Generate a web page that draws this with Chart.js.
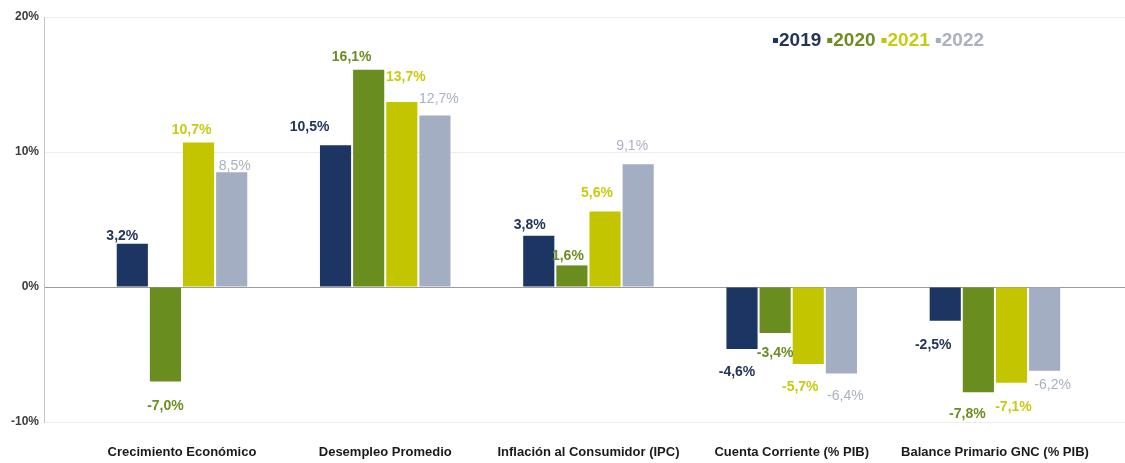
<!DOCTYPE html>
<html>
<head>
<meta charset="utf-8">
<script src="https://cdn.jsdelivr.net/npm/chart.js@4.4.1/dist/chart.umd.min.js"></script>
<style>
  html, body { margin: 0; padding: 0; background: #ffffff; }
  #wrap { width: 1125px; height: 463px; position: relative; }
</style>
</head>
<body>
<div id="wrap"><canvas id="c"></canvas></div>
<script>
// Indicators (x axis) and yearly values, in percent
const categories = [
  'Crecimiento Económico',
  'Desempleo Promedio',
  'Inflación al Consumidor (IPC)',
  'Cuenta Corriente (% PIB)',
  'Balance Primario GNC (% PIB)'
];
const years = ['2019', '2020', '2021', '2022'];
const v2019 = [3.2, 10.5, 3.8, -4.6, -2.5];
const v2020 = [-7.0, 16.1, 1.6, -3.4, -7.8];
const v2021 = [10.7, 13.7, 5.6, -5.7, -7.1];
const v2022 = [8.5, 12.7, 9.1, -6.4, -6.2];
const yTickValues = [-10, 0, 10, 20];

// Styling per year
const barColors   = ['#1c3562', '#6a8d1f', '#c3c500', '#a3aec3'];
const labelColors = ['#24355c', '#6b8e23', '#c9cb10', '#a9b1c2'];
const labelWeight = ['bold', 'bold', 'bold', 'normal'];

// Small offsets (px) of each value label from its bar end, so labels don't collide
const labelNudge = [
  [[-10, -8], [-26, -18], [-9, -11], [-5, 23], [-12, 24]],
  [[0, 25], [-17, -13], [-4, -9], [0, 20], [-11, 22]],
  [[-7, -12], [4, -25], [-8, -18], [-8, 23], [2, 24]],
  [[3, -6], [4, -16], [-6, -18], [4, 23], [8, 14]]
];

const series = [v2019, v2020, v2021, v2022];
const FONT = '"Liberation Sans", Arial, sans-serif';

const fmt = v => v.toFixed(1).replace('.', ',') + '%';

const valueLabels = {
  id: 'valueLabels',
  afterDatasetsDraw(chart) {
    const ctx = chart.ctx;
    ctx.save();
    ctx.textAlign = 'center';
    ctx.textBaseline = 'middle';
    chart.data.datasets.forEach((ds, di) => {
      const meta = chart.getDatasetMeta(di);
      ctx.fillStyle = labelColors[di];
      ctx.font = labelWeight[di] + ' 14px ' + FONT;
      meta.data.forEach((bar, i) => {
        const [dx, dy] = labelNudge[di][i];
        ctx.fillText(fmt(series[di][i]), bar.x + dx, bar.y + dy);
      });
    });
    ctx.restore();
  }
};

const yearKey = {
  id: 'yearKey',
  afterDraw(chart) {
    const ctx = chart.ctx;
    ctx.save();
    ctx.font = 'bold 19px ' + FONT;
    ctx.textBaseline = 'middle';
    ctx.textAlign = 'left';
    let x = 773;
    const y = 41;
    years.forEach((yr, i) => {
      ctx.fillStyle = barColors[i];
      ctx.fillRect(x, y - 3, 5, 5);
      ctx.fillStyle = labelColors[i];
      ctx.fillText(yr, x + 6, y);
      x += 6 + ctx.measureText(yr).width + 6;
    });
    ctx.restore();
  }
};

new Chart(document.getElementById('c'), {
  type: 'bar',
  data: {
    datasets: years.map((yr, di) => ({
      label: yr,
      data: series[di].map((v, i) => ({ x: i, y: v })),
      backgroundColor: barColors[di],
      borderWidth: 0,
      categoryPercentage: 0.652,
      barPercentage: 0.94
    }))
  },
  options: {
    responsive: true,
    maintainAspectRatio: false,
    animation: false,
    devicePixelRatio: 1,
    layout: { padding: { top: 17, right: 0, bottom: 3, left: 0 } },
    plugins: {
      legend: { display: false },
      tooltip: { enabled: false }
    },
    scales: {
      x: {
        type: 'linear',
        offset: false,
        min: -0.679,
        max: 4.640,
        afterBuildTicks: s => { s.ticks = categories.map((_, i) => ({ value: i })); },
        afterFit: s => { s.height = 38; },
        grid: { display: false, drawTicks: false },
        border: { display: false },
        ticks: {
          autoSkip: false,
          maxRotation: 0,
          minRotation: 0,
          padding: 23,
          color: '#1a1a1a',
          font: { family: FONT, size: 13, weight: 'bold' },
          callback: v => categories[v]
        }
      },
      y: {
        min: -10,
        max: 20,
        afterBuildTicks: s => { s.ticks = yTickValues.map(v => ({ value: v })); },
        afterFit: s => { s.width = 44; },
        grid: {
          drawTicks: false,
          color: c => (c.tick && c.tick.value === 0) ? '#9c9c9c' : '#ededed',
          lineWidth: 1
        },
        border: { display: true, color: '#c4c4c4' },
        ticks: {
          padding: 5,
          color: '#3c3c3c',
          font: { family: FONT, size: 12, weight: 'bold' },
          callback: v => v + '%'
        }
      }
    }
  },
  plugins: [valueLabels, yearKey]
});
</script>
</body>
</html>
